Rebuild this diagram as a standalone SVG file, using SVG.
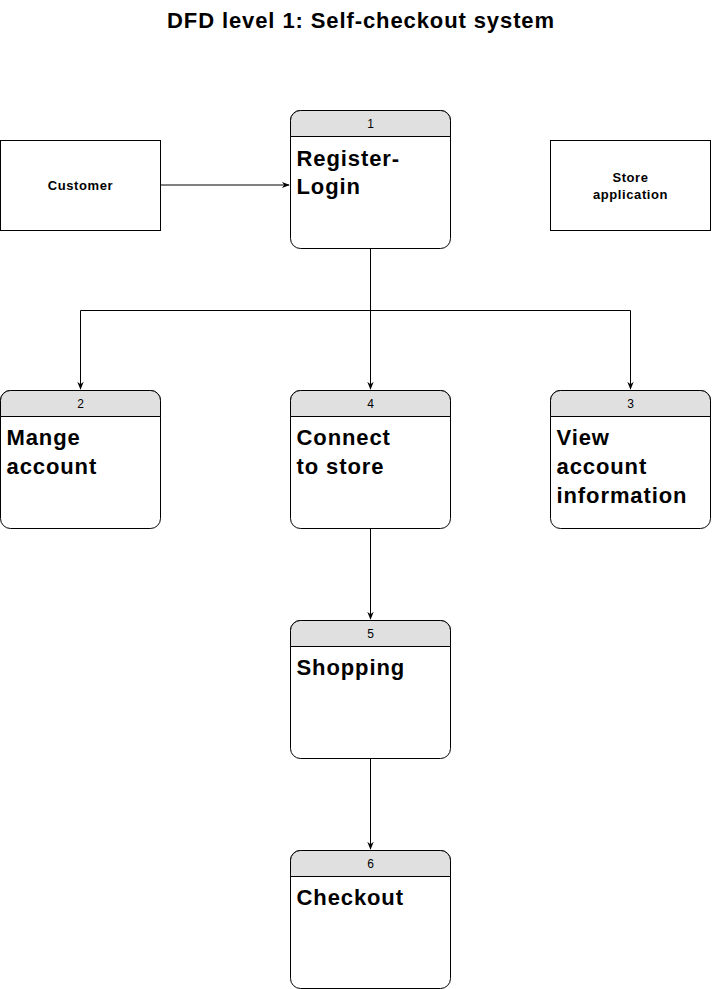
<svg xmlns="http://www.w3.org/2000/svg" width="712" height="989" viewBox="0 0 712 989">
<style>
.box{fill:#fff;stroke:#000;stroke-width:1}
.hdr{fill:#e0e0e0;stroke:#000;stroke-width:1}
.num{font-family:"Liberation Sans",Arial,sans-serif;font-size:12px;text-anchor:middle;fill:#000}
.big{font-family:"Liberation Sans",Arial,sans-serif;font-size:22px;font-weight:bold;letter-spacing:0.9px;fill:#000}
.ext{font-family:"Liberation Sans",Arial,sans-serif;font-size:13px;font-weight:bold;letter-spacing:0.6px;text-anchor:middle;fill:#000}
.title{font-family:"Liberation Sans",Arial,sans-serif;font-size:22px;font-weight:bold;letter-spacing:0.9px;text-anchor:middle;fill:#000}
.edge{fill:none;stroke:#000;stroke-width:1}
</style>
<defs>
<marker id="arr" viewBox="0 0 10 10" refX="9" refY="5" markerWidth="8" markerHeight="8" markerUnits="userSpaceOnUse" orient="auto">
<path d="M0,1 L10,5 L0,9 L3,5 Z" fill="#000"/>
</marker>
</defs>
<rect width="712" height="989" fill="#fff"/>
<text class="title" x="361" y="28">DFD level 1: Self-checkout system</text>

<g id="connectors">
<path class="edge" d="M160.5,185 H289" marker-end="url(#arr)"/>
<path class="edge" d="M370.5,248 V389" marker-end="url(#arr)"/>
<path class="edge" d="M370.5,310.5 H80.5 V389" marker-end="url(#arr)"/>
<path class="edge" d="M370.5,310.5 H630.5 V389" marker-end="url(#arr)"/>
<path class="edge" d="M370.5,528 V619" marker-end="url(#arr)"/>
<path class="edge" d="M370.5,758 V849" marker-end="url(#arr)"/>
</g>

<g id="customer">
<rect class="box" x="0.5" y="140.5" width="160" height="90"/>
<text class="ext" x="80.5" y="190">Customer</text>
</g>

<g id="store-app">
<rect class="box" x="550.5" y="140.5" width="160" height="90"/>
<text class="ext" x="630.5" y="181.5">Store</text>
<text class="ext" x="630.5" y="198.5">application</text>
</g>

<g id="p1">
<rect class="box" x="290.5" y="110.5" width="160" height="138" rx="10"/>
<path class="hdr" d="M290.5,136.5 V120.5 A10,10 0 0 1 300.5,110.5 H440.5 A10,10 0 0 1 450.5,120.5 V136.5 Z"/>
<text class="num" x="370.5" y="127.5">1</text>
<text class="big" x="296.5" y="166">Register-</text>
<text class="big" x="296.5" y="194">Login</text>
</g>

<g id="p2">
<rect class="box" x="0.5" y="390.5" width="160" height="138" rx="10"/>
<path class="hdr" d="M0.5,416.5 V400.5 A10,10 0 0 1 10.5,390.5 H150.5 A10,10 0 0 1 160.5,400.5 V416.5 Z"/>
<text class="num" x="80.5" y="407.5">2</text>
<text class="big" x="6.5" y="445">Mange</text>
<text class="big" x="6.5" y="474">account</text>
</g>

<g id="p4">
<rect class="box" x="290.5" y="390.5" width="160" height="138" rx="10"/>
<path class="hdr" d="M290.5,416.5 V400.5 A10,10 0 0 1 300.5,390.5 H440.5 A10,10 0 0 1 450.5,400.5 V416.5 Z"/>
<text class="num" x="370.5" y="407.5">4</text>
<text class="big" x="296.5" y="445">Connect</text>
<text class="big" x="296.5" y="474">to store</text>
</g>

<g id="p3">
<rect class="box" x="550.5" y="390.5" width="160" height="138" rx="10"/>
<path class="hdr" d="M550.5,416.5 V400.5 A10,10 0 0 1 560.5,390.5 H700.5 A10,10 0 0 1 710.5,400.5 V416.5 Z"/>
<text class="num" x="630.5" y="407.5">3</text>
<text class="big" x="556.5" y="445">View</text>
<text class="big" x="556.5" y="474">account</text>
<text class="big" x="556.5" y="503">information</text>
</g>

<g id="p5">
<rect class="box" x="290.5" y="620.5" width="160" height="138" rx="10"/>
<path class="hdr" d="M290.5,646.5 V630.5 A10,10 0 0 1 300.5,620.5 H440.5 A10,10 0 0 1 450.5,630.5 V646.5 Z"/>
<text class="num" x="370.5" y="637.5">5</text>
<text class="big" x="296.5" y="675">Shopping</text>
</g>

<g id="p6">
<rect class="box" x="290.5" y="850.5" width="160" height="138" rx="10"/>
<path class="hdr" d="M290.5,876.5 V860.5 A10,10 0 0 1 300.5,850.5 H440.5 A10,10 0 0 1 450.5,860.5 V876.5 Z"/>
<text class="num" x="370.5" y="867.5">6</text>
<text class="big" x="296.5" y="905">Checkout</text>
</g>
</svg>
